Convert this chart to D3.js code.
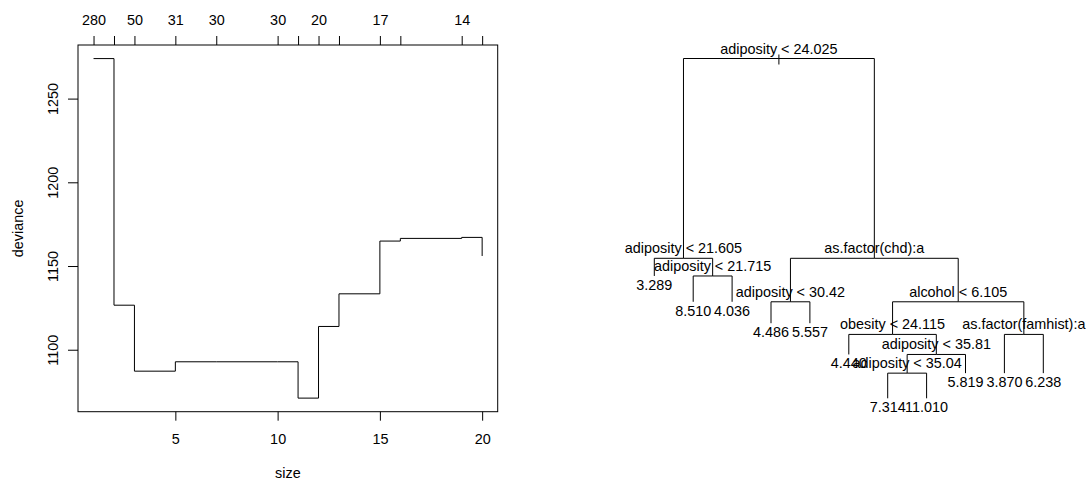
<!DOCTYPE html>
<html>
<head>
<meta charset="utf-8">
<script src="https://d3js.org/d3.v7.min.js"></script>
<style>
  body { margin: 0; background: #fff; }
  svg text { font-family: "Liberation Sans", Arial, sans-serif; font-size: 14.4px; fill: #000; }
  .ln { fill: none; stroke: #000; stroke-width: 1; }
</style>
</head>
<body>
<div id="vis"></div>
<script>
// cross-validation sequence (size vs deviance)
var sizes = [1, 2, 3, 5, 7, 10, 11, 12, 13, 15, 16, 19, 20];
var deviance = [1273.9, 1126.6, 1087.2, 1092.8, 1092.8, 1092.8, 1071.1, 1113.9, 1133.4, 1164.9, 1166.5, 1167.1, 1156.0];
// k labels on the top axis ("" where R dropped an overlapping label)
var kLabels = ["280", "", "50", "31", "30", "30", "", "20", "", "17", "", "14", ""];
var xTicks = [5, 10, 15, 20];
var yTicks = [1100, 1150, 1200, 1250];

// regression tree, nodes in preorder
var nodeText = ["adiposity < 24.025", "adiposity < 21.605", "3.289", "adiposity < 21.715", "8.510", "4.036",
  "as.factor(chd):a", "adiposity < 30.42", "4.486", "5.557", "alcohol < 6.105", "obesity < 24.115", "4.440",
  "adiposity < 35.81", "adiposity < 35.04", "7.314", "11.010", "5.819", "as.factor(famhist):a", "3.870", "6.238"];
var nodeParent = [-1, 0, 1, 1, 3, 3, 0, 6, 7, 7, 6, 10, 11, 11, 13, 14, 14, 13, 10, 18, 18];
// drop of each node below the root (proportional to deviance), 0..100
var nodeDrop = [0, 58.8, 64.0, 64.0, 71.6, 71.6, 58.8, 71.6, 77.9, 77.9, 71.6, 81.2, 87.1, 87.1, 92.6, 100, 100, 92.6, 81.2, 92.6, 92.6];

var W = 1088, H = 479;
var svg = d3.select("#vis").append("svg").attr("width", W).attr("height", H);

// ---------- left panel ----------
var box = {left: 78, right: 497.7, top: 45, bottom: 411.7};

function pad(ext) { var d = (ext[1] - ext[0]) * 0.04; return [ext[0] - d, ext[1] + d]; }

var x = d3.scaleLinear().domain(pad(d3.extent(sizes))).range([box.left, box.right]);
var y = d3.scaleLinear().domain(pad(d3.extent(deviance))).range([box.bottom, box.top]);

var seq = sizes.map(function(s, i) { return [s, deviance[i]]; });
var step = d3.line().x(function(d) { return x(d[0]); }).y(function(d) { return y(d[1]); }).curve(d3.curveStepAfter);
svg.append("path").datum(seq).attr("class", "ln").attr("d", step);

svg.append("rect").attr("class", "ln")
  .attr("x", box.left).attr("y", box.top)
  .attr("width", box.right - box.left).attr("height", box.bottom - box.top);

var gb = svg.append("g").attr("transform", "translate(0," + box.bottom + ")")
  .call(d3.axisBottom(x).tickValues(xTicks).tickSize(9).tickFormat(d3.format("d")));
var gl = svg.append("g").attr("transform", "translate(" + box.left + ",0)")
  .call(d3.axisLeft(y).tickValues(yTicks).tickSize(10).tickFormat(d3.format("d")));
var gt = svg.append("g").attr("transform", "translate(0," + box.top + ")")
  .call(d3.axisTop(x).tickValues(sizes).tickSize(9)
    .tickFormat(function(d, i) { return kLabels[i]; }));

[gb, gl, gt].forEach(function(g) {
  g.select(".domain").remove();
  g.selectAll("line").attr("stroke", "#000");
  g.selectAll("text").attr("font-size", null).attr("font-family", null).attr("fill", "#000");
});
gb.selectAll(".tick text").attr("dy", null).attr("y", 32);
gt.selectAll(".tick text").attr("dy", null).attr("y", -20);
gl.selectAll(".tick text")
  .attr("dy", null).attr("text-anchor", "middle")
  .attr("transform", "translate(-20,0) rotate(-90)").attr("x", 0).attr("y", 0);

svg.append("text").attr("text-anchor", "middle")
  .attr("x", (box.left + box.right) / 2).attr("y", 478).text("size");
svg.append("text").attr("text-anchor", "middle")
  .attr("transform", "translate(23," + ((box.top + box.bottom) / 2) + ") rotate(-90)")
  .text("deviance");

// ---------- right panel: tree ----------
var n = nodeText.length;
var kids = nodeText.map(function() { return []; });
nodeParent.forEach(function(p, i) { if (p >= 0) kids[p].push(i); });
var leafIdx = [], leafCount = 0;
for (var i = 0; i < n; i++) { if (kids[i].length === 0) { leafCount++; leafIdx[i] = leafCount; } }

var tx = d3.scaleLinear().domain([1, leafCount]).range([654.3, 1043.3]);
var ty = d3.scaleLinear().domain([0, 100]).range([58.5, 398.3]);

var nodeX = [];
function posX(i) {
  if (nodeX[i] !== undefined) return nodeX[i];
  nodeX[i] = kids[i].length === 0 ? tx(leafIdx[i]) : d3.mean(kids[i], posX);
  return nodeX[i];
}
for (i = 0; i < n; i++) posX(i);

var tree = svg.append("g");
for (i = 0; i < n; i++) {
  var p = nodeParent[i];
  if (p < 0) {
    // short stem through the root split
    tree.append("path").attr("class", "ln")
      .attr("d", "M" + nodeX[i] + "," + (ty(nodeDrop[i]) - 4) + "V" + (ty(nodeDrop[i]) + 6));
  } else {
    tree.append("path").attr("class", "ln")
      .attr("d", "M" + nodeX[p] + "," + ty(nodeDrop[p]) + "H" + nodeX[i] + "V" + ty(nodeDrop[i]));
  }
}
for (i = 0; i < n; i++) {
  var leaf = kids[i].length === 0;
  tree.append("text").attr("text-anchor", "middle")
    .attr("x", nodeX[i])
    .attr("y", leaf ? ty(nodeDrop[i]) + 14 : ty(nodeDrop[i]) - 5)
    .text(nodeText[i]);
}
</script>
</body>
</html>
